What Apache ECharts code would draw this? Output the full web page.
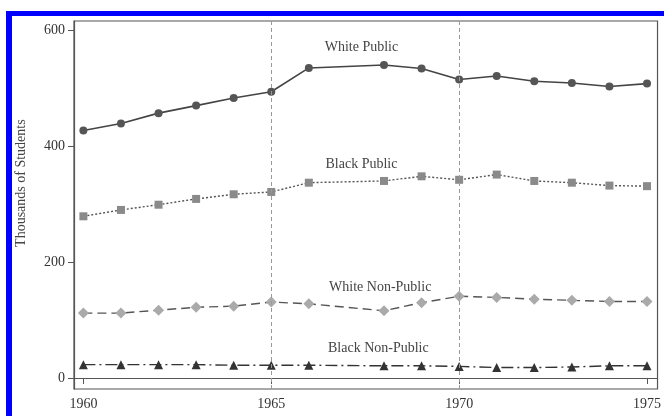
<!DOCTYPE html>
<html>
<head>
<meta charset="utf-8">
<script src="https://cdn.jsdelivr.net/npm/echarts@6/dist/echarts.min.js"></script>
<style>
  html, body { margin: 0; padding: 0; background: #fff; }
  #chart { width: 664px; height: 416px; }
</style>
</head>
<body>
<div id="chart"></div>
<script>
// School enrollment, thousands of students, 1960-1975 (no 1967 observation)
const years = [1960, 1961, 1962, 1963, 1964, 1965, 1966, 1968, 1969, 1970, 1971, 1972, 1973, 1974, 1975];
const whitePublic    = [427, 439, 457, 470, 483, 494, 535, 540, 534, 515, 521, 512, 509, 503, 508];
const blackPublic    = [279, 290, 299, 309, 317, 321, 337, 340, 348, 342, 351, 340, 337, 332, 331];
const whiteNonPublic = [112, 112, 117, 122, 124, 131, 128, 116, 130, 141, 139, 136, 134, 132, 132];
const blackNonPublic = [23, 23, 23, 23, 22, 22, 22, 21, 21, 20, 18, 18, 19, 21, 21];

const xTicks = [1960, 1965, 1970, 1975];
const yTicks = [0, 200, 400, 600];
const referenceYears = [1965, 1970];

// Series name labels, anchored in data coordinates [year, thousands]
const seriesLabels = [
  { text: 'White Public',     at: [1967.4, 570] },
  { text: 'Black Public',     at: [1967.4, 368] },
  { text: 'White Non-Public', at: [1967.9, 156] },
  { text: 'Black Non-Public', at: [1967.85, 52] }
];

const serif = '"Liberation Serif", "DejaVu Serif", serif';
const pair = (vals) => years.map((y, i) => [y, vals[i]]);

const chart = echarts.init(document.getElementById('chart'), null, { renderer: 'canvas' });

const option = {
  backgroundColor: '#ffffff',
  animation: false,
  grid: {
    left: 74, right: 4, top: 21, bottom: 27,
    show: true, borderColor: '#555', borderWidth: 1.2, backgroundColor: 'transparent'
  },
  xAxis: {
    type: 'value',
    min: 1959.75, max: 1975.28,
    axisLine: { show: true, lineStyle: { color: '#555', width: 1.2 } },
    axisTick: { show: true, inside: false, length: 6, customValues: xTicks, lineStyle: { color: '#555' } },
    axisLabel: { customValues: xTicks, color: '#333', fontFamily: serif, fontSize: 14, margin: 8, formatter: v => String(v) },
    splitLine: { show: false }
  },
  yAxis: {
    type: 'value',
    min: -19, max: 616,
    axisLine: { show: true, lineStyle: { color: '#555', width: 1.2 } },
    axisTick: { show: true, inside: false, length: 6, customValues: yTicks, lineStyle: { color: '#555' } },
    axisLabel: { customValues: yTicks, color: '#333', fontFamily: serif, fontSize: 14, margin: 9, formatter: v => String(v) },
    splitLine: { show: false }
  },
  series: [
    {
      name: 'White Public', type: 'line', data: pair(whitePublic),
      symbol: 'circle', symbolSize: 8,
      itemStyle: { color: '#555' },
      lineStyle: { color: '#444', width: 1.6, type: 'solid' },
      markLine: {
        silent: true, symbol: ['none', 'none'], label: { show: false },
        lineStyle: { color: '#999', width: 1, type: [4, 3] },
        data: referenceYears.map(y => ({ xAxis: y }))
      },
      z: 4
    },
    {
      name: 'Black Public', type: 'line', data: pair(blackPublic),
      symbol: 'rect', symbolSize: 8,
      itemStyle: { color: '#8a8a8a' },
      lineStyle: { color: '#555', width: 1.4, type: [2, 2] },
      z: 4
    },
    {
      name: 'White Non-Public', type: 'line', data: pair(whiteNonPublic),
      symbol: 'diamond', symbolSize: 11,
      itemStyle: { color: '#aaa' },
      lineStyle: { color: '#555', width: 1.4, type: [9, 5] },
      z: 4
    },
    {
      name: 'Black Non-Public', type: 'line', data: pair(blackNonPublic),
      symbol: 'triangle', symbolSize: 9,
      itemStyle: { color: '#333' },
      lineStyle: { color: '#333', width: 1.4, type: [12, 4, 2, 4] },
      z: 4
    }
  ]
};

chart.setOption(option);

// Place series name labels and the outer frame once the scales exist
const graphics = seriesLabels.map(l => {
  const p = chart.convertToPixel({ gridIndex: 0 }, l.at);
  return {
    type: 'text', x: p[0], y: p[1], z: 10,
    style: { text: l.text, fill: '#444', font: '14px ' + serif, textAlign: 'center', textVerticalAlign: 'middle' }
  };
});

const yTop = chart.convertToPixel({ gridIndex: 0 }, [1960, 600])[1];
const yBot = chart.convertToPixel({ gridIndex: 0 }, [1960, 0])[1];

graphics.push({
  type: 'text', x: 21, y: (yTop + yBot) / 2 - 21, rotation: Math.PI / 2, z: 10,
  style: { text: 'Thousands of Students', fill: '#444', font: '14px ' + serif, textAlign: 'center', textVerticalAlign: 'middle' }
});
// Blue border along the top and left edges
graphics.push({ type: 'rect', shape: { x: 6, y: 11, width: 658, height: 5 }, style: { fill: '#0000ff' }, z: 20 });
graphics.push({ type: 'rect', shape: { x: 6, y: 11, width: 6, height: 405 }, style: { fill: '#0000ff' }, z: 20 });

chart.setOption({ graphic: graphics });
</script>
</body>
</html>
